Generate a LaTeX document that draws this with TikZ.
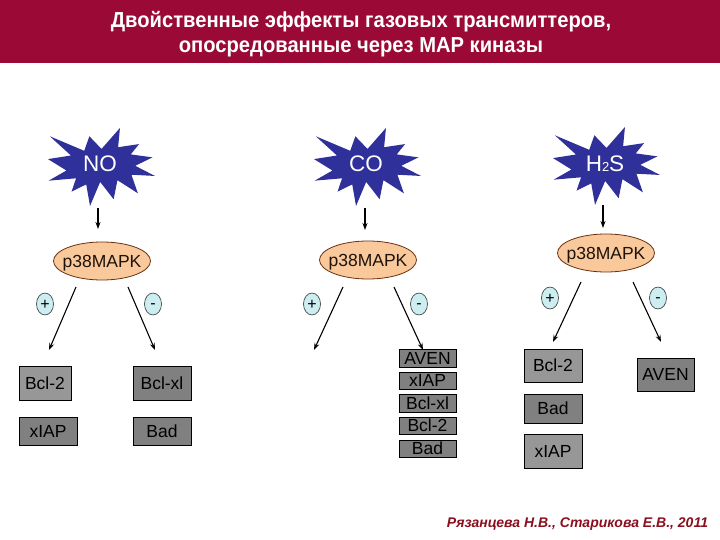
\documentclass[tikz,border=0pt]{standalone}
\usepackage{fontspec}
\usepackage{graphicx}
\setmainfont{Liberation Sans}
\usetikzlibrary{shapes.geometric,arrows.meta}
\definecolor{titlered}{HTML}{9B0A37}
\definecolor{starblue}{HTML}{30309A}
\definecolor{peach}{HTML}{F9C99C}
\definecolor{peachline}{HTML}{6A3010}
\definecolor{signfill}{HTML}{CDEEF1}
\definecolor{boxlight}{HTML}{979797}
\definecolor{boxdark}{HTML}{808080}
\definecolor{footred}{HTML}{8A0E1E}
\newcommand\explosionshape[2]{%
  \begin{scope}[shift={(#1,#2)},xscale=0.4954,yscale=0.361]
    \fill[starblue] (108,58) -- (145.22,0) -- (141.55,53.25) -- (183.80,44.57) -- (167.02,73.15)
      -- (210.97,81.37) -- (176.07,104.75) -- (216,132.90) -- (168.37,129.42) -- (181.45,180.95)
      -- (140.20,144.57) -- (132.47,197.37) -- (105.32,149.35) -- (84.85,216) -- (77.15,156.27)
      -- (47.62,176.17) -- (56.67,139.37) -- (1.35,145.87) -- (37.22,117.75) -- (0,86.15)
      -- (46.27,76.17) -- (3.70,22.95) -- (73.12,63.20) -- (83.52,22.95) -- cycle;
  \end{scope}}
\begin{document}
\begin{tikzpicture}[x=1pt,y=-1pt,
  startext/.style={text=white,font=\fontsize{22.5}{22.5}\selectfont,inner sep=0pt},
  kinase/.style={ellipse,draw=peachline,line width=0.8pt,fill=peach,minimum width=97pt,minimum height=38pt,inner sep=0pt,text height=12pt,text depth=0pt,font=\fontsize{17.5}{17.5}\selectfont,text=black!85!brown},
  signnode/.style={ellipse,draw=black!80,line width=0.6pt,fill=signfill,minimum width=17pt,minimum height=22pt,inner sep=0pt,font=\fontsize{16}{16}\selectfont,text depth=0pt},
  plusnode/.style={signnode,text height=10.6pt},
  minusnode/.style={signnode,text height=8pt},
  gbox/.style={draw=black,line width=0.8pt,inner sep=0pt,font=\fontsize{17.5}{17.5}\selectfont,text height=12.5pt,text depth=0pt},
  lightbox/.style={gbox,fill=boxlight},
  darkbox/.style={gbox,fill=boxdark},
  arr/.style={line width=1.1pt,-{Stealth[length=7pt,width=5pt]}}]
\useasboundingbox (0,0) rectangle (720,540);
% title bar
\fill[titlered] (0,0) rectangle (720,63);
\node[anchor=base,text=white,font=\bfseries\fontsize{21.7}{21.7}\selectfont,inner sep=0pt] (t1) at (361,28) {\scalebox{0.93}[1]{Двойственные эффекты газовых трансмиттеров,}};
\node[anchor=base,text=white,font=\bfseries\fontsize{21.7}{21.7}\selectfont,inner sep=0pt] (t2) at (361,52.5) {\scalebox{0.93}[1]{опосредованные через MAP киназы}};
% stars
\explosionshape{48}{128}
\explosionshape{314}{128}
\explosionshape{553}{127}
\node[startext] (no) at (100,164) {NO};
\node[startext] (co) at (366,164) {CO};
\node[startext] (hs) at (605,164) {H{\fontsize{13}{13}\selectfont 2}S};
% kinases
\node[kinase] (k1) at (102,261) {\makebox[0pt]{p38MAPK}};
\node[kinase] (k2) at (368,260) {\makebox[0pt]{p38MAPK}};
\node[kinase] (k3) at (606,253) {\makebox[0pt]{p38MAPK}};
% arrows star -> kinase
\coordinate (a1s) at (98,208); \coordinate (a1e) at (98,229);
\coordinate (a2s) at (365,208); \coordinate (a2e) at (365,230);
\coordinate (a3s) at (603,205); \coordinate (a3e) at (603,228);
\draw[arr] (a1s) -- (a1e);
\draw[arr] (a2s) -- (a2e);
\draw[arr] (a3s) -- (a3e);
% signs
\node[plusnode] (s1p) at (45,304) {\makebox[0pt]{+}};
\node[minusnode] (s1m) at (153,304) {\makebox[0pt]{-}};
\node[plusnode] (s2p) at (312,304) {\makebox[0pt]{+}};
\node[minusnode] (s2m) at (419,304) {\makebox[0pt]{-}};
\node[plusnode] (s3p) at (550,298) {\makebox[0pt]{+}};
\node[minusnode] (s3m) at (658,298) {\makebox[0pt]{-}};
% branch arrows
\coordinate (b1ls) at (76,287); \coordinate (b1le) at (49,350);
\coordinate (b1rs) at (128,287); \coordinate (b1re) at (155,350);
\coordinate (b2ls) at (343,287); \coordinate (b2le) at (314,350);
\coordinate (b2rs) at (394,287); \coordinate (b2re) at (423,350);
\coordinate (b3ls) at (581,282); \coordinate (b3le) at (553,342);
\coordinate (b3rs) at (633,282); \coordinate (b3re) at (661,342);
\draw[arr] (b1ls) -- (b1le);
\draw[arr] (b1rs) -- (b1re);
\draw[arr] (b2ls) -- (b2le);
\draw[arr] (b2rs) -- (b2re);
\draw[arr] (b3ls) -- (b3le);
\draw[arr] (b3rs) -- (b3re);
% NO targets
\node[lightbox,minimum width=52pt,minimum height=34pt] (n1) at (45,383) {Bcl-2};
\node[darkbox,minimum width=58pt,minimum height=28pt] (n2) at (48,431) {xIAP};
\node[darkbox,minimum width=58pt,minimum height=34pt] (n3) at (162,383) {Bcl-xl};
\node[darkbox,minimum width=58pt,minimum height=28pt] (n4) at (162,431) {Bad};
% CO targets
\node[darkbox,minimum width=57pt,minimum height=18pt] (c1) at (427.5,358) {AVEN};
\node[darkbox,minimum width=57pt,minimum height=17pt] (c2) at (427.5,380.5) {xIAP};
\node[darkbox,minimum width=57pt,minimum height=18pt] (c3) at (427.5,403) {Bcl-xl};
\node[darkbox,minimum width=57pt,minimum height=17pt] (c4) at (427.5,425.5) {Bcl-2};
\node[darkbox,minimum width=57pt,minimum height=17pt] (c5) at (427.5,448.5) {Bad};
% H2S targets
\node[lightbox,minimum width=58pt,minimum height=33pt] (h1) at (553,365.5) {Bcl-2};
\node[darkbox,minimum width=58pt,minimum height=29pt] (h2) at (553,408.5) {Bad};
\node[lightbox,minimum width=58pt,minimum height=34pt] (h3) at (553,451) {xIAP};
\node[darkbox,minimum width=57pt,minimum height=33pt] (h4) at (665.5,374.5) {AVEN};
% footer
\node[anchor=base,text=footred,font=\bfseries\itshape\fontsize{14}{14}\selectfont,inner sep=0pt] (ft) at (577.5,527) {Рязанцева Н.В., Старикова Е.В., 2011};
\end{tikzpicture}
\end{document}
